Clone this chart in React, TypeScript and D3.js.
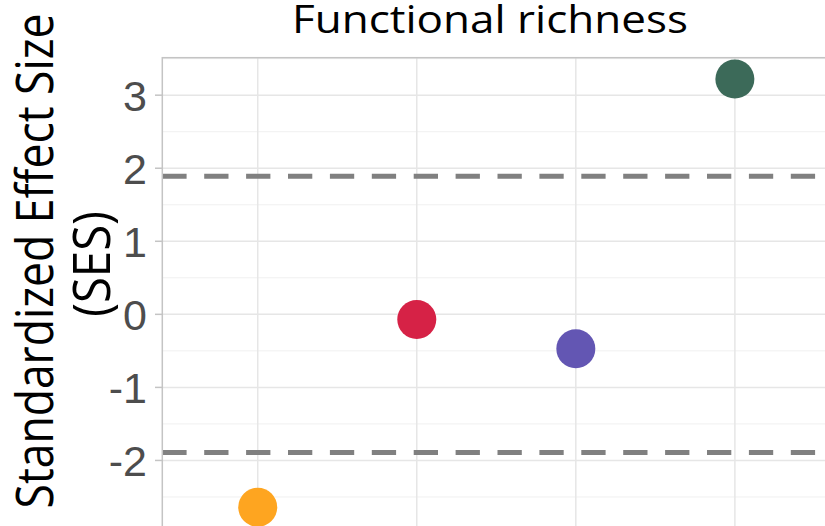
import React from "react";
import * as d3 from "d3";

// Standardized effect sizes of functional richness per group
const groups = ["Group A", "Group B", "Group C", "Group D"];
const sesValues = [-2.64, -0.07, -0.47, 3.22];
const pointColors = ["#FEA520", "#D62246", "#6356B3", "#3C6A59"];
const yTicks = [-2, -1, 0, 1, 2, 3];
const yMinorTicks = [-2.5, -1.5, -0.5, 0.5, 1.5, 2.5, 3.5];
const significanceBounds = [-1.89, 1.89];

const W = 825;
const H = 526;
const panel = { left: 162.3, right: 830.3, top: 57.7, bottom: 528.6 };

export default function App() {
  const [lo, hi] = d3.extent(sesValues) as [number, number];
  const pad = (hi - lo) * 0.05;
  const y = d3
    .scaleLinear()
    .domain([lo - pad, hi + pad])
    .range([panel.bottom, panel.top]);
  const x = d3
    .scalePoint<string>()
    .domain(groups)
    .range([panel.left, panel.right])
    .padding(0.6);

  const labelCenterY = 261;

  return (
    <svg
      width={W}
      height={H}
      style={{ position: "absolute", left: 0, top: 0, background: "#fff" }}
    >
      <defs>
        <clipPath id="panel-clip">
          <rect
            x={panel.left}
            y={panel.top}
            width={panel.right - panel.left}
            height={panel.bottom - panel.top}
          />
        </clipPath>
      </defs>
      <rect width={W} height={H} fill="#fff" />

      <g clipPath="url(#panel-clip)">
        {yMinorTicks.map((t) => (
          <line
            key={"mn" + t}
            x1={panel.left}
            x2={panel.right}
            y1={y(t)}
            y2={y(t)}
            stroke="#F0F0F0"
            strokeWidth={1}
          />
        ))}
        {yTicks.map((t) => (
          <line
            key={"mj" + t}
            x1={panel.left}
            x2={panel.right}
            y1={y(t)}
            y2={y(t)}
            stroke="#E6E6E6"
            strokeWidth={1.5}
          />
        ))}
        {groups.map((g) => (
          <line
            key={"vx" + g}
            x1={x(g)}
            x2={x(g)}
            y1={panel.top}
            y2={panel.bottom}
            stroke="#E6E6E6"
            strokeWidth={1.5}
          />
        ))}
        {significanceBounds.map((b) => (
          <line
            key={"sb" + b}
            x1={panel.left}
            x2={panel.right}
            y1={y(b)}
            y2={y(b)}
            stroke="#808080"
            strokeWidth={5}
            strokeDasharray="24.3 17.6"
          />
        ))}
        {groups.map((g, i) => (
          <circle
            key={"pt" + g}
            cx={x(g)}
            cy={y(sesValues[i])}
            r={19.5}
            fill={pointColors[i]}
          />
        ))}
      </g>

      {/* panel border */}
      <rect
        x={panel.left}
        y={panel.top}
        width={panel.right - panel.left}
        height={panel.bottom - panel.top}
        fill="none"
        stroke="#C4C4C4"
        strokeWidth={1.5}
      />

      {/* y axis ticks and labels */}
      {yTicks.map((t) => (
        <g key={"yt" + t}>
          <line
            x1={155}
            x2={panel.left}
            y1={y(t)}
            y2={y(t)}
            stroke="#C4C4C4"
            strokeWidth={1.5}
          />
          <text
            x={147}
            y={y(t)}
            dy="0.36em"
            textAnchor="end"
            fontFamily="'Liberation Sans', Arial, sans-serif"
            fontSize={43}
            fill="#4D4D4D"
          >
            {t}
          </text>
        </g>
      ))}

      {/* title */}
      <text
        x={490}
        y={33}
        textAnchor="middle"
        fontFamily="'Open Sans', 'Noto Sans', sans-serif"
        fontSize={39}
        fill="#000"
        textLength={396}
        lengthAdjust="spacingAndGlyphs"
      >
        Functional richness
      </text>

      {/* y axis title */}
      <g transform={`translate(52.7, ${labelCenterY}) rotate(-90)`}>
        <text
          x={0}
          y={0}
          textAnchor="middle"
          fontFamily="'Open Sans', 'Noto Sans', sans-serif"
          fontSize={51}
          fill="#000"
          textLength={495}
          lengthAdjust="spacingAndGlyphs"
        >
          Standardized Effect Size
        </text>
      </g>
      <g transform={`translate(110, ${labelCenterY + 3}) rotate(-90)`}>
        <text
          x={0}
          y={0}
          textAnchor="middle"
          fontFamily="'Open Sans', 'Noto Sans', sans-serif"
          fontSize={51}
          fill="#000"
          textLength={106}
          lengthAdjust="spacingAndGlyphs"
        >
          (SES)
        </text>
      </g>
    </svg>
  );
}
